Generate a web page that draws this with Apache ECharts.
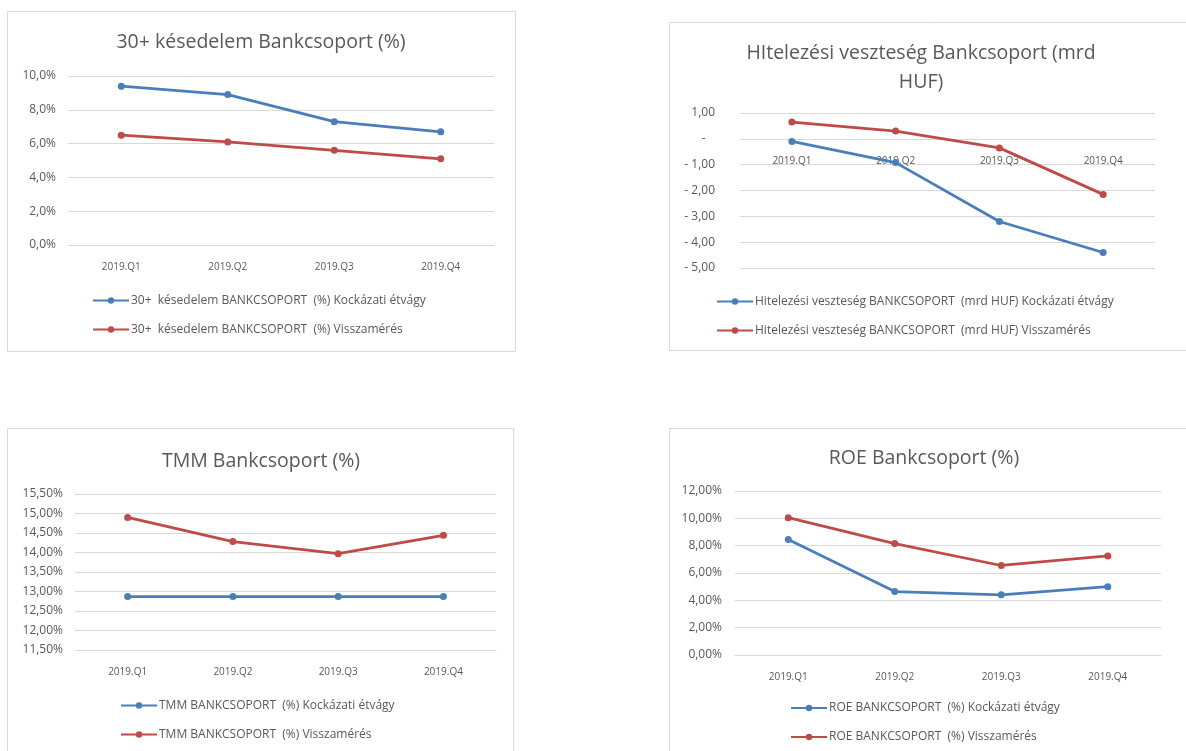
<!DOCTYPE html>
<html>
<head>
<meta charset="utf-8">
<script src="https://cdn.jsdelivr.net/npm/echarts@6/dist/echarts.min.js"></script>
<style>
html,body{margin:0;padding:0;background:#fff;}
#c{width:1186px;height:751px;}
</style>
</head>
<body>
<div id="c"></div>
<script>
// ---- data ----
const categories = ['2019.Q1', '2019.Q2', '2019.Q3', '2019.Q4'];

const late30Names = ['30+  késedelem BANKCSOPORT  (%) Kockázati étvágy', '30+  késedelem BANKCSOPORT  (%) Visszamérés'];
const late30Risk = [9.4, 8.9, 7.3, 6.7];
const late30Back = [6.5, 6.1, 5.6, 5.1];

const lossNames = ['Hitelezési veszteség BANKCSOPORT  (mrd HUF) Kockázati étvágy', 'Hitelezési veszteség BANKCSOPORT  (mrd HUF) Visszamérés'];
const lossRisk = [-0.1, -0.92, -3.2, -4.4];
const lossBack = [0.65, 0.3, -0.35, -2.15];

const tmmNames = ['TMM BANKCSOPORT  (%) Kockázati étvágy', 'TMM BANKCSOPORT  (%) Visszamérés'];
const tmmRisk = [12.87, 12.87, 12.87, 12.87];
const tmmBack = [14.9, 14.28, 13.97, 14.44];

const roeNames = ['ROE BANKCSOPORT  (%) Kockázati étvágy', 'ROE BANKCSOPORT  (%) Visszamérés'];
const roeRisk = [8.45, 4.64, 4.4, 5.0];
const roeBack = [10.05, 8.15, 6.55, 7.25];

const titles = ['30+ késedelem Bankcsoport (%)', 'HItelezési veszteség Bankcsoport (mrd\nHUF)', 'TMM Bankcsoport (%)', 'ROE Bankcsoport (%)'];

// ---- styling ----
const FONT = 'Open Sans';
const BLUE = '#4a7ebb';
const RED = '#be4b48';
const TXT = '#595959';
const GRID = '#d9d9d9';

const comma = (v, d) => v.toFixed(d).replace('.', ',');

const chart = echarts.init(document.getElementById('c'), null, {renderer: 'canvas'});

function yAxis(idx, min, max, interval, fmt, margin) {
  return {
    type: 'value', gridIndex: idx, min: min, max: max, interval: interval,
    axisLine: {show: false}, axisTick: {show: false},
    splitLine: {show: true, lineStyle: {color: GRID, width: 1}},
    axisLabel: {color: TXT, fontFamily: FONT, fontSize: 12, margin: margin, formatter: fmt}
  };
}
function xAxis(idx, offset) {
  return {
    type: 'category', gridIndex: idx, data: categories, boundaryGap: true,
    position: 'bottom', offset: offset || 0,
    axisLine: {show: true, onZero: false, lineStyle: {color: GRID, width: 1}},
    axisTick: {show: false},
    axisLabel: {color: TXT, fontFamily: FONT, fontSize: 10, margin: 17}
  };
}
function series(name, data, idx, color) {
  return {
    type: 'line', name: name, data: data, xAxisIndex: idx, yAxisIndex: idx,
    symbol: 'circle', symbolSize: 7, smooth: false,
    lineStyle: {color: color, width: 2.75},
    itemStyle: {color: color},
    emphasis: {disabled: true}
  };
}
function legend(names, left, top) {
  return {
    data: names, orient: 'vertical', left: left, top: top, padding: 0,
    itemWidth: 36, itemHeight: 8, itemGap: 14,
    textStyle: {color: TXT, fontFamily: FONT, fontSize: 12, lineHeight: 15, padding: [0, 0, 0, -3]},
    selectedMode: false
  };
}
function title(text, cx, top) {
  return {
    text: text, left: cx, top: top, textAlign: 'center', padding: 0,
    textStyle: {color: TXT, fontFamily: FONT, fontSize: 19.5, fontWeight: 'normal', lineHeight: 29}
  };
}
function box(x, y, w, h) {
  return {type: 'rect', z: -10, shape: {x: x, y: y, width: w, height: h},
    style: {fill: '#fff', stroke: '#d9d9d9', lineWidth: 1}};
}

// grid geometry (chart 2 x-axis sits on the zero line)
const g2 = {left: 740, top: 113, width: 415, height: 155};
const zeroOffset2 = -(g2.height * 5 / 6);

const option = {
  animation: false,
  backgroundColor: '#fff',
  graphic: [
    box(7.5, 11.5, 508, 340),
    box(669.5, 22.5, 530, 328),
    box(7.5, 428.5, 506, 340),
    box(669.5, 428.5, 530, 340)
  ],
  title: [
    title(titles[0], 261, 28),
    title(titles[1], 921, 39),
    title(titles[2], 261, 447),
    title(titles[3], 924, 444)
  ],
  legend: [
    legend(late30Names, 92, 293),
    legend(lossNames, 716, 294),
    legend(tmmNames, 120, 698),
    legend(roeNames, 790, 700.5)
  ],
  grid: [
    {left: 68, top: 76, width: 426, height: 169},
    g2,
    {left: 75, top: 494, width: 421, height: 156},
    {left: 735, top: 491, width: 426, height: 164}
  ],
  xAxis: [xAxis(0), xAxis(1, zeroOffset2), xAxis(2), xAxis(3)],
  yAxis: [
    yAxis(0, 0, 10, 2, v => comma(v, 1) + '%', 12),
    yAxis(1, -5, 1, 1, v => (Math.abs(v) < 1e-9 ? '-   ' : (v < 0 ? '- ' + comma(-v, 2) : comma(v, 2))), 25),
    yAxis(2, 11.5, 15.5, 0.5, v => comma(v, 2) + '%', 12),
    yAxis(3, 0, 12, 2, v => comma(v, 2) + '%', 13)
  ],
  series: [
    series(late30Names[0], late30Risk, 0, BLUE),
    series(late30Names[1], late30Back, 0, RED),
    series(lossNames[0], lossRisk, 1, BLUE),
    series(lossNames[1], lossBack, 1, RED),
    series(tmmNames[0], tmmRisk, 2, BLUE),
    series(tmmNames[1], tmmBack, 2, RED),
    series(roeNames[0], roeRisk, 3, BLUE),
    series(roeNames[1], roeBack, 3, RED)
  ]
};
chart.setOption(option);
</script>
</body>
</html>
